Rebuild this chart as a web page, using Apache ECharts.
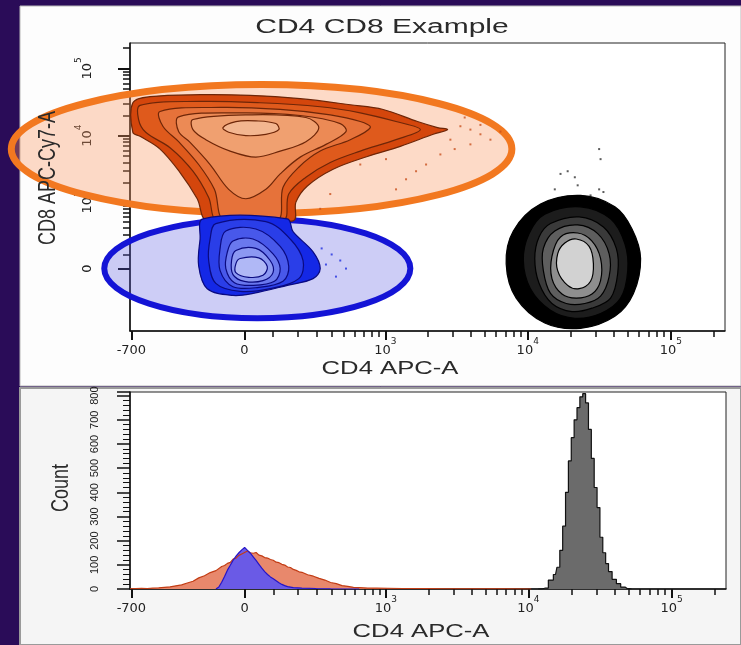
<!DOCTYPE html>
<html>
<head>
<meta charset="utf-8">
<script src="https://cdn.jsdelivr.net/npm/echarts@6/dist/echarts.min.js"></script>
<style>
  html, body { margin: 0; padding: 0; background: #2a0c58; }
  #chart { width: 741px; height: 645px; }
</style>
</head>
<body>
<div id="chart"></div>
<script>
// ---- axis ticks (raw fluorescence values on a biexponential display) ----
var xMajorTicks = [-700, 0, 1000, 10000, 100000];
var xMajorLabels = ['{n|-700}', '{n|0}', '{n|10}{s|3}', '{n|10}{s|4}', '{n|10}{s|5}'];
var yMajorTicks = [-701, 0, 1000, 10000, 100000];
var yMajorLabels = ['{n|-701}', '{n|0}', '{n|10}{s|3}', '{n|10}{s|4}', '{n|10}{s|5}'];
var minorTicks = [100, 200, 300, 400, 500, 600, 700, 800, 900,
  2000, 3000, 4000, 5000, 6000, 7000, 8000, 9000,
  20000, 30000, 40000, 50000, 60000, 70000, 80000, 90000, 200000];

// ---- contour levels, in display units (x: CD4, y: CD8), outer -> inner ----
var cd8Levels = [
  [[-0.78,2.47],[-0.66,2.56],[-0.31,2.59],[0.04,2.58],[0.39,2.53],[0.74,2.44],[0.97,2.37],[1.21,2.19],[1.35,2.10],[1.42,2.07],[1.32,2.00],[1.09,1.82],[0.86,1.67],[0.62,1.48],[0.44,1.23],[0.36,0.99],[0.34,0.71],[-0.26,0.71],[-0.33,1.04],[-0.45,1.43],[-0.59,1.78],[-0.73,1.97],[-0.78,2.03]],
  [[-0.73,2.43],[-0.31,2.49],[0.11,2.47],[0.53,2.41],[0.81,2.32],[1.06,2.19],[1.23,2.07],[1.06,1.92],[0.81,1.75],[0.60,1.58],[0.43,1.36],[0.31,1.11],[0.27,0.71],[-0.19,0.71],[-0.25,1.06],[-0.36,1.45],[-0.52,1.80],[-0.69,2.03],[-0.74,2.22]],
  [[-0.59,2.34],[-0.17,2.40],[0.25,2.37],[0.60,2.29],[0.81,2.19],[0.88,2.10],[0.74,1.92],[0.53,1.75],[0.38,1.51],[0.27,1.21],[0.23,0.71],[-0.14,0.71],[-0.21,1.18],[-0.32,1.55],[-0.46,1.89],[-0.57,2.12]],
  [[-0.46,2.26],[-0.03,2.32],[0.39,2.28],[0.67,2.16],[0.71,2.04],[0.57,1.85],[0.39,1.66],[0.25,1.41],[0.15,1.18],[0.01,1.04],[-0.11,1.18],[-0.24,1.55],[-0.38,1.88],[-0.46,2.04]],
  [[-0.36,2.22],[0.04,2.29],[0.43,2.25],[0.52,2.10],[0.43,1.89],[0.25,1.75],[0.08,1.66],[-0.10,1.75],[-0.27,1.92],[-0.36,2.07]],
  [[-0.15,2.10],[-0.06,2.19],[0.08,2.20],[0.22,2.16],[0.24,2.07],[0.15,2.00],[0.01,1.98],[-0.11,2.03]]
];
var dnLevels = [
  [[-0.29,0.74],[0.30,0.74],[0.34,0.55],[0.48,0.25],[0.53,0.00],[0.48,-0.15],[0.30,-0.25],[0.06,-0.37],[-0.08,-0.40],[-0.26,-0.30],[-0.32,0.04],[-0.31,0.44]],
  [[-0.20,0.67],[0.15,0.70],[0.32,0.44],[0.41,0.12],[0.38,-0.15],[0.18,-0.30],[-0.03,-0.34],[-0.20,-0.22],[-0.25,0.12],[-0.24,0.44]],
  [[-0.13,0.56],[0.08,0.59],[0.25,0.33],[0.31,0.03],[0.27,-0.19],[0.10,-0.28],[-0.08,-0.27],[-0.17,-0.03],[-0.17,0.30]],
  [[-0.08,0.41],[0.06,0.44],[0.20,0.22],[0.25,0.00],[0.21,-0.19],[0.06,-0.25],[-0.07,-0.21],[-0.13,0.00],[-0.12,0.24]],
  [[-0.06,0.27],[0.08,0.30],[0.18,0.12],[0.20,-0.06],[0.13,-0.18],[0.00,-0.19],[-0.08,-0.09],[-0.09,0.12]],
  [[-0.03,0.15],[0.10,0.16],[0.16,0.03],[0.13,-0.10],[0.03,-0.13],[-0.06,-0.06],[-0.06,0.07]]
];
var cd4Levels = [
  [[2.07,0.96],[2.35,1.09],[2.59,0.92],[2.71,0.59],[2.77,0.15],[2.72,-0.37],[2.59,-0.71],[2.35,-0.89],[2.10,-0.81],[1.90,-0.44],[1.83,0.07],[1.88,0.56]],
  [[2.10,0.81],[2.35,0.92],[2.56,0.74],[2.66,0.37],[2.68,-0.03],[2.63,-0.44],[2.49,-0.67],[2.31,-0.74],[2.14,-0.62],[2.00,-0.30],[1.95,0.12],[1.99,0.52]],
  [[2.14,0.67],[2.34,0.77],[2.51,0.62],[2.60,0.30],[2.61,-0.07],[2.56,-0.44],[2.43,-0.59],[2.29,-0.64],[2.15,-0.52],[2.06,-0.22],[2.03,0.15],[2.06,0.47]],
  [[2.17,0.56],[2.33,0.65],[2.47,0.52],[2.55,0.22],[2.55,-0.12],[2.49,-0.41],[2.38,-0.52],[2.25,-0.52],[2.14,-0.37],[2.09,-0.03],[2.09,0.30]],
  [[2.21,0.47],[2.33,0.53],[2.43,0.41],[2.49,0.15],[2.49,-0.18],[2.43,-0.38],[2.32,-0.44],[2.22,-0.38],[2.15,-0.15],[2.15,0.18]],
  [[2.24,0.38],[2.32,0.44],[2.41,0.33],[2.44,0.07],[2.42,-0.19],[2.34,-0.30],[2.26,-0.25],[2.19,-0.03],[2.19,0.22]]
];
// outlier events
var cd8Dots = [[1.51,2.12],[1.58,2.07],[1.65,2.00],[1.72,1.92],[1.58,1.85],[1.47,1.78],[1.37,1.70],[1.27,1.55],[1.20,1.45],[1.13,1.33],[1.44,1.92],[1.79,2.04],[1.54,2.25],[1.65,2.14],[1.06,1.18],[0.60,1.11],[0.53,0.89],[0.99,1.63],[0.81,1.55]];
var cd4Dots = [[2.21,1.41],[2.26,1.45],[2.31,1.36],[2.17,1.18],[2.48,1.78],[2.49,1.63],[2.48,1.18],[2.51,1.14],[2.42,1.09],[2.33,1.24]];
var dnDots = [[0.54,0.30],[0.61,0.21],[0.67,0.12],[0.71,0.00],[0.64,-0.12],[0.57,0.06]];

// gates: [centerX, centerY, radiusX, radiusY] in display units
var cd8Gate = [0.12, 1.78, 1.75, 0.96];
var dnGate = [0.09, 0.00, 1.07, 0.74];

// ---- histograms of CD4 (display units, count) ----
var cd8Hist = [[-0.80,1],[-0.76,2],[-0.72,3],[-0.68,2],[-0.64,4],[-0.60,5],[-0.56,7],[-0.52,9],[-0.48,13],[-0.44,17],[-0.40,25],[-0.36,32],[-0.32,46],[-0.28,55],[-0.24,68],[-0.20,76],[-0.16,93],[-0.14,97],[-0.12,106],[-0.10,110],[-0.08,124],[-0.06,128],[-0.04,139],[-0.02,145],[0.00,151],[0.02,157],[0.04,150],[0.06,148],[0.08,151],[0.10,140],[0.12,137],[0.14,130],[0.16,128],[0.18,122],[0.20,119],[0.22,111],[0.24,109],[0.26,102],[0.28,99],[0.30,91],[0.32,89],[0.34,81],[0.36,77],[0.38,71],[0.40,69],[0.44,59],[0.48,53],[0.52,44],[0.56,37],[0.60,27],[0.64,22],[0.68,14],[0.72,11],[0.76,7],[0.80,6],[0.86,4],[0.92,4],[1.00,3],[1.10,2],[1.25,2],[1.40,1],[1.60,1],[1.80,1],[2.00,0]];
var dnHist = [[-0.20,0],[-0.18,8],[-0.16,28],[-0.14,52],[-0.12,78],[-0.10,98],[-0.08,119],[-0.06,136],[-0.04,150],[-0.02,162],[0.00,172],[0.02,160],[0.04,148],[0.06,133],[0.08,118],[0.10,102],[0.12,86],[0.14,72],[0.16,60],[0.18,50],[0.20,42],[0.22,34],[0.24,26],[0.26,19],[0.28,14],[0.30,10],[0.34,6],[0.40,4],[0.50,2],[0.60,1],[0.80,0]];
var cd4Hist = [[2.05,0],[2.10,4],[2.14,37],[2.17,60],[2.19,90],[2.21,160],[2.23,260],[2.25,400],[2.27,530],[2.29,626],[2.31,700],[2.33,750],[2.35,795],[2.37,808],[2.39,770],[2.41,660],[2.43,540],[2.45,420],[2.47,337],[2.49,214],[2.51,150],[2.53,105],[2.55,72],[2.58,40],[2.61,22],[2.64,8],[2.67,2],[2.70,0]];

// biexponential transform -> display units (about one unit per decade)
function biex(v, wNeg) {
  return v >= 0 ? Math.asinh(v / 209) / Math.LN10 : -Math.asinh(-v / wNeg) / Math.LN10;
}
var xMajorD = xMajorTicks.map(function (v) { return biex(v, 233); });
var yMajorD = yMajorTicks.map(function (v) { return biex(v, 167); });
var xMinorD = minorTicks.map(function (v) { return biex(v, 233); });
var yMinorD = minorTicks.map(function (v) { return biex(v, 167); });

function pickLabel(ds, labels) {
  return function (val) {
    for (var i = 0; i < ds.length; i++) {
      if (Math.abs(ds[i] - val) < 1e-6) return labels[i];
    }
    return '';
  };
}

var FONT = 'Liberation Sans';
var tickRich = {
  n: { fontSize: 13, fontFamily: 'DejaVu Sans', color: '#222', lineHeight: 20, verticalAlign: 'bottom' },
  s: { fontSize: 9, fontFamily: 'DejaVu Sans', color: '#222', lineHeight: 20, verticalAlign: 'top' }
};

var chart = echarts.init(document.getElementById('chart'));

function majorX(gridIndex) {
  return {
    type: 'value', gridIndex: gridIndex, position: 'bottom', min: -0.80, max: 3.36,
    splitLine: { show: false },
    axisLine: { show: true, onZero: false, lineStyle: { color: '#111', width: 1.5 } },
    axisTick: { show: true, customValues: xMajorD, length: 9, lineStyle: { color: '#111', width: 2 } },
    axisLabel: { customValues: xMajorD, formatter: pickLabel(xMajorD, xMajorLabels), margin: 6, rich: tickRich }
  };
}
function minorX(gridIndex) {
  return {
    type: 'value', gridIndex: gridIndex, position: 'bottom', offset: 0, min: -0.80, max: 3.36,
    splitLine: { show: false },
    axisLine: { show: false, onZero: false },
    axisTick: { show: true, customValues: xMinorD, length: 6, lineStyle: { color: '#111', width: 1.5 } },
    axisLabel: { show: false }
  };
}

function contourSeries(levels, fills, stroke) {
  return {
    type: 'custom', xAxisIndex: 0, yAxisIndex: 0, silent: true,
    data: levels.map(function (l, i) { return [i]; }),
    renderItem: function (params, api) {
      var ring = levels[params.dataIndex];
      var pts = ring.map(function (p) { return api.coord(p); });
      return {
        type: 'polygon',
        shape: { points: pts, smooth: 0.35 },
        style: { fill: fills[params.dataIndex], stroke: stroke, lineWidth: 1.2 }
      };
    }
  };
}

function gateSeries(gate, fill, stroke, width) {
  return {
    type: 'custom', xAxisIndex: 0, yAxisIndex: 0, silent: true, clip: false,
    data: [gate],
    renderItem: function (params, api) {
      var c = api.coord([api.value(0), api.value(1)]);
      var s = api.size([api.value(2), api.value(3)]);
      return {
        type: 'ellipse',
        shape: { cx: c[0], cy: c[1], rx: s[0], ry: s[1] },
        style: { fill: fill, stroke: stroke, lineWidth: width }
      };
    }
  };
}

function dots(data, color) {
  return {
    type: 'scatter', xAxisIndex: 0, yAxisIndex: 0, silent: true,
    symbol: 'rect', symbolSize: 2, data: data, itemStyle: { color: color }
  };
}

function hist(data, fill, line, step) {
  return {
    type: 'line', xAxisIndex: 2, yAxisIndex: 2, silent: true,
    data: data, symbol: 'none', step: step || false,
    lineStyle: { color: line, width: 1.2 },
    areaStyle: { color: fill, opacity: 1 }
  };
}

function txt(str, x, y, size, rot, stretch) {
  return {
    type: 'text', x: x, y: y, z: 10,
    rotation: rot ? Math.PI / 2 : 0,
    scaleX: rot ? 1 : stretch, scaleY: rot ? stretch : 1,
    style: {
      text: str, fill: '#2a2a2a', font: size + 'px "' + FONT + '"',
      textAlign: 'center', textVerticalAlign: 'middle', align: 'center', verticalAlign: 'middle'
    }
  };
}

var option = {
  animation: false,
  backgroundColor: '#2a0c58',
  graphic: [
    { type: 'rect', z: -10, shape: { x: 20, y: 6, width: 721, height: 380 }, style: { fill: '#fdfdfd', stroke: '#b8b8b8', lineWidth: 1 } },
    { type: 'rect', z: -10, shape: { x: 20, y: 388, width: 721, height: 257 }, style: { fill: '#f5f5f5', stroke: '#9a9a9a', lineWidth: 2 } },
    txt('CD4 CD8 Example', 382, 27, 20, false, 1.5),
    txt('CD4 APC-A', 390, 369, 19, false, 1.35),
    txt('CD4 APC-A', 421, 632, 19, false, 1.35),
    txt('CD8 APC-Cy7-A', 48, 178, 18, true, 1.35),
    txt('Count', 61, 488, 18, true, 1.35)
  ],
  grid: [
    { left: 130, top: 43, width: 595, height: 288, show: true, backgroundColor: '#ffffff', borderColor: '#222', borderWidth: 1 },
    { left: 130, top: 392, width: 596, height: 197, show: true, backgroundColor: '#ffffff', borderColor: '#222', borderWidth: 1 }
  ],
  xAxis: [majorX(0), minorX(0), majorX(1), minorX(1)],
  yAxis: [
    {
      type: 'value', gridIndex: 0, position: 'left', min: -0.93, max: 3.36,
      splitLine: { show: false },
      axisLine: { show: true, onZero: false, lineStyle: { color: '#111', width: 1.5 } },
      axisTick: { show: true, customValues: yMajorD, length: 12, lineStyle: { color: '#111', width: 2 } },
      axisLabel: { customValues: yMajorD, formatter: pickLabel(yMajorD, yMajorLabels), rotate: 90, margin: 36, rich: tickRich }
    },
    {
      type: 'value', gridIndex: 0, position: 'left', offset: 0, min: -0.93, max: 3.36,
      splitLine: { show: false },
      axisLine: { show: false, onZero: false },
      axisTick: { show: true, customValues: yMinorD, length: 7, lineStyle: { color: '#111', width: 1.5 } },
      axisLabel: { show: false }
    },
    {
      type: 'value', gridIndex: 1, position: 'left', min: 0, max: 815, interval: 100,
      splitLine: { show: false },
      axisLine: { show: true, onZero: false, lineStyle: { color: '#111', width: 1.5 } },
      axisTick: { show: true, length: 13, lineStyle: { color: '#111', width: 1.5 } },
      minorTick: { show: true, splitNumber: 5, length: 7, lineStyle: { color: '#111', width: 1 } },
      axisLabel: { rotate: 90, margin: 30, fontSize: 11, fontFamily: FONT, color: '#222' }
    }
  ],
  series: [
    gateSeries(cd8Gate, 'rgba(248,150,95,0.35)', '#f27820', 7),
    gateSeries(dnGate, 'rgba(90,90,225,0.30)', '#1414d6', 6),
    contourSeries(cd8Levels, ['#d4460c', '#df5a1c', '#e6723a', '#ec8a55', '#f0a070', '#f3b690'], '#6e2608'),
    contourSeries(dnLevels, ['#1428e6', '#2a3ee8', '#4858ea', '#6a78ee', '#8c98f2', '#b0b8f6'], '#0a0a80'),
    contourSeries(cd4Levels, ['#000000', '#1c1c1c', '#3a3a3a', '#5e5e5e', '#8e8e8e', '#d2d2d2'], '#000000'),
    dots(cd8Dots, '#c8501e'),
    dots(cd4Dots, '#333333'),
    dots(dnDots, '#2030e0'),
    hist(cd8Hist, '#e8886c', '#c23c14'),
    hist(dnHist, '#6a5ae6', '#2414c8'),
    hist(cd4Hist, '#6b6b6b', '#111111', 'middle')
  ]
};
chart.setOption(option);
</script>
</body>
</html>
